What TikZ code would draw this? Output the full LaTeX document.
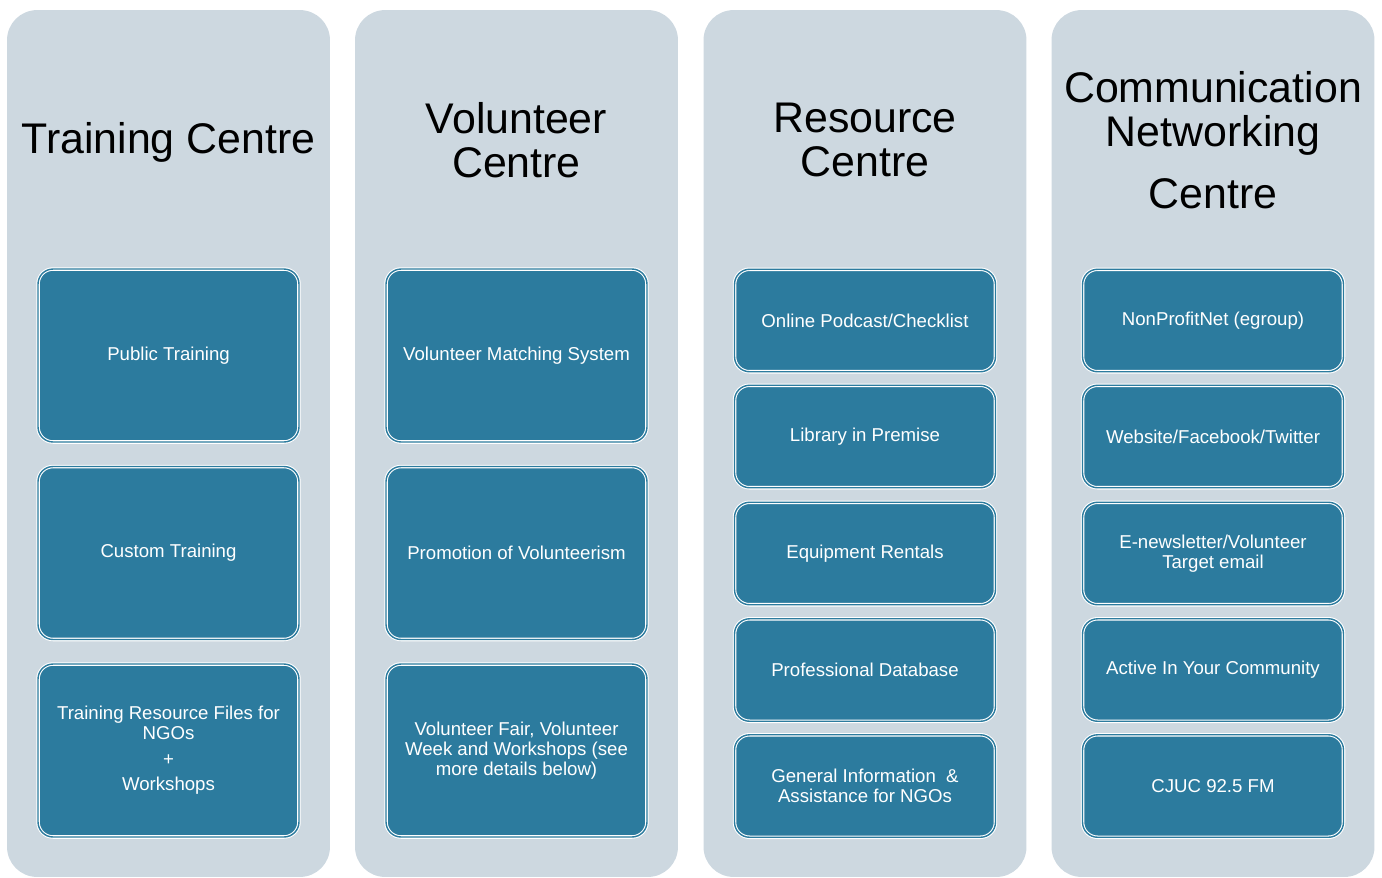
\documentclass[tikz,border=0pt]{standalone}
\usepackage{fontspec}
\setmainfont{Liberation Sans}
\usepackage{tikz}
\usetikzlibrary{positioning}
\definecolor{centregrey}{RGB}{205,216,224}
\definecolor{unitteal}{RGB}{44,123,158}
\tikzstyle{centre}=[rectangle,fill=centregrey,minimum width=6.46cm,minimum height=17.34cm,rounded corners=0.6cm]
\tikzstyle{title}=[align=center,text=black,font=\fontsize{24.4pt}{25pt}\selectfont]
\tikzstyle{unit}=[rectangle,draw=white,double=unitteal,double distance=0.8pt,line width=0.6pt,fill=unitteal,minimum width=5.22cm,minimum height=3.46cm,rounded corners=0.3cm,align=center,text=white,font=\fontsize{10.6pt}{11.5pt}\selectfont]
\tikzstyle{unitt}=[unit,minimum height=2.05cm]

\begin{document}
\begin{tikzpicture}[x=0.02cm,y=-0.02cm]
	\useasboundingbox (0,0) rectangle (1382,877);
	\node[centre] (centre1) at (168.5,443.5) {};
	\node[centre] (centre2) at (516.5,443.5) {};
	\node[centre] (centre3) at (865,443.5) {};
	\node[centre] (centre4) at (1213,443.5) {};
	
	\node[title] (title1) at (168.5,142) {Training Centre};
	\node[title] (title2) at (516.5,140) {Volunteer\\Centre};
	\node[title] (title3) at (865,140) {Resource\\Centre};
	\node[title] (title4) at (1213,140) {Communication\\Networking\\[10pt]Centre};
	
	\node[unit] (unit11) at (168.5,355.5) {Public Training};
	\node[unit] (unit12) at (168.5,553) {Custom Training};
	\node[unit] (unit13) at (168.5,750.5) {Training Resource Files for\\NGOs\\[3pt]+\\[3pt]Workshops};
	
	\node[unit] (unit21) at (516.5,355.5) {Volunteer Matching System};
	\node[unit] (unit22) at (516.5,553) {Promotion of Volunteerism};
	\node[unit] (unit23) at (516.5,750.5) {Volunteer Fair, Volunteer\\Week and Workshops (see\\more details below)};
	
	\node[unitt] (unit31) at (865,320.5) {Online Podcast/Checklist};
	\node[unitt] (unit32) at (865,436.5) {Library in Premise};
	\node[unitt] (unit33) at (865,553.5) {Equipment Rentals};
	\node[unitt] (unit34) at (865,670) {Professional Database};
	\node[unitt] (unit35) at (865,786) {General Information\ \ \&\\Assistance for NGOs};
	
	\node[unitt] (unit41) at (1213,320.5) {NonProfitNet (egroup)};
	\node[unitt] (unit42) at (1213,436.5) {Website/Facebook/Twitter};
	\node[unitt] (unit43) at (1213,553.5) {E-newsletter/Volunteer\\Target email};
	\node[unitt] (unit44) at (1213,670) {Active In Your Community};
	\node[unitt] (unit45) at (1213,786) {CJUC 92.5 FM};
\end{tikzpicture}
\end{document}
